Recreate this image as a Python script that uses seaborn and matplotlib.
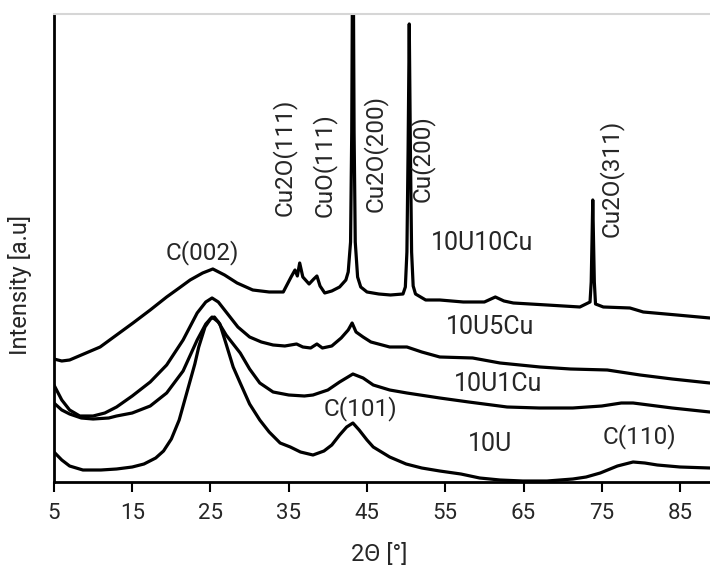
import matplotlib
matplotlib.use("Agg")
import matplotlib.pyplot as plt
import seaborn as sns
import pandas as pd

# ---- data (2theta in degrees, intensity in arbitrary units) ----
x_10u10cu = [5.0, 6.0, 7.0, 8.5, 10.9, 13.0, 15.1, 17.3, 19.4, 21.0, 22.4, 24.0, 25.3, 26.8, 28.4,
             30.4, 32.5, 34.3, 35.3, 35.8, 36.1, 36.4, 36.8, 37.6, 38.2, 38.6, 39.0, 39.6,
             40.5, 41.5, 42.3, 42.6, 42.9, 43.05, 43.2, 43.35, 43.5, 43.8, 44.2, 45.0, 46.5,
             48.0, 49.6, 49.9, 50.1, 50.25, 50.4, 50.55, 50.7, 50.9, 51.2, 52.5, 54.3, 57.3,
             60.0, 61.4, 62.5, 63.7, 68.0, 72.2, 73.5, 73.65, 73.75, 73.85, 73.95, 74.05,
             74.2, 75.2, 78.6, 80.3, 84.6, 88.8]
y_10u10cu = [123, 121, 122, 127, 135, 147, 159, 172, 185, 194, 202, 209, 213, 207, 199,
             192, 190, 190, 205, 212, 206, 219, 205, 198, 203, 206, 196, 189,
             191, 195, 202, 210, 240, 350, 600, 350, 240, 205, 195, 190, 188,
             187, 188, 195, 230, 330, 458, 330, 230, 196, 188, 182, 182, 180,
             180, 185, 181, 179, 177, 175, 180, 200, 240, 282, 240, 200,
             178, 175, 174, 170, 167, 164]

x_10u5cu = [5.0, 6.0, 7.0, 8.3, 10.0, 11.5, 13.0, 15.0, 17.3, 19.4, 21.5, 23.3, 24.4, 25.2,
            26.0, 27.1, 28.5, 30.0, 31.5, 33.0, 34.5, 36.0, 36.8, 37.8, 38.6, 39.3, 40.5,
            41.7, 42.6, 43.1, 43.6, 44.5, 45.5, 47.9, 50.1, 52.0, 54.3, 58.5, 62.0, 67.1,
            71.0, 75.7, 79.9, 84.0, 88.8]
y_10u5cu = [97, 82, 72, 66, 66, 69, 75, 86, 100, 117, 142, 169, 180, 184,
            180, 169, 155, 145, 140, 137, 136, 138, 135, 134, 138, 134, 136,
            144, 152, 159, 150, 145, 140, 135, 135, 130, 125, 124, 119, 115,
            113, 112, 107, 103, 99]

x_10u1cu = [5.0, 6.0, 7.0, 8.5, 10.0, 12.0, 13.0, 15.0, 17.3, 19.4, 21.5, 23.3, 24.4, 25.2,
            26.0, 27.0, 28.8, 30.0, 31.3, 33.0, 35.0, 37.0, 38.1, 40.0, 41.5, 43.2, 44.5,
            45.8, 47.9, 50.1, 54.3, 58.0, 62.9, 67.0, 71.3, 75.0, 77.5, 79.0, 81.0, 84.0,
            88.8]
y_10u1cu = [79, 72, 68, 64, 63, 64, 66, 69, 76, 89, 111, 142, 158, 165,
            160, 147, 129, 113, 99, 90, 87, 86, 87, 92, 100, 108, 104,
            97, 92, 89, 84, 80, 75, 74, 74, 76, 79, 79, 77, 74,
            70]

x_10u = [5.0, 6.0, 7.0, 8.7, 11.0, 13.0, 15.0, 16.5, 18.0, 19.0, 20.0, 21.0, 22.0, 23.0,
         23.5, 24.3, 25.0, 25.5, 26.2, 27.0, 27.9, 28.8, 30.0, 31.3, 32.5, 33.9, 35.2,
         36.5, 38.1, 39.5, 40.5, 41.5, 42.4, 43.2, 44.0, 45.0, 45.8, 47.9, 50.0, 52.0,
         54.3, 57.0, 59.4, 62.0, 64.9, 68.0, 71.3, 73.0, 74.8, 77.0, 79.0, 80.5, 82.1,
         85.0, 88.8]
y_10u = [30, 22, 16, 12, 12, 13, 15, 18, 24, 31, 43, 62, 90, 118,
         135, 155, 163, 165, 158, 138, 115, 99, 78, 62, 50, 39, 35,
         30, 27, 31, 37, 47, 55, 59, 52, 42, 35, 25, 18, 14,
         11, 8, 4, 2, 1, 1, 3, 5, 9, 16, 20, 19, 17,
         15, 14]

samples = ["10U10Cu", "10U5Cu", "10U1Cu", "10U"]

# annotation labels
peak_labels = ["C(002)", "Cu2O(111)", "CuO(111)", "Cu2O(200)", "Cu(200)", "Cu2O(311)",
               "C(101)", "C(110)"]
peak_label_x = [24.0, 34.4, 39.5, 46.0, 52.0, 76.2, 44.2, 79.8]
peak_label_y = [229, 325, 317, 328, 323, 304, 73, 45]
peak_label_rot = [0, 90, 90, 90, 90, 90, 0, 0]

sample_label_x = [59.7, 60.7, 61.7, 60.7]
sample_label_y = [239, 155, 98, 38]

x_ticks = [5, 15, 25, 35, 45, 55, 65, 75, 85]

# ---- build table ----
frames = []
for name, xs, ys in zip(samples, [x_10u10cu, x_10u5cu, x_10u1cu, x_10u],
                        [y_10u10cu, y_10u5cu, y_10u1cu, y_10u]):
    frames.append(pd.DataFrame({"two_theta": xs, "intensity": ys, "sample": name}))
df = pd.concat(frames, ignore_index=True)

sns.set_style("white")
plt.rcParams["font.family"] = ["Roboto", "DejaVu Sans"]

fig = plt.figure(figsize=(7.1, 5.68), dpi=100)
ax = fig.add_axes([0.076, 0.1514, 0.924, 0.824])

sns.lineplot(data=df, x="two_theta", y="intensity", units="sample", estimator=None,
             color="black", lw=2.3, sort=False, ax=ax, legend=False)

ax.set_xlim(5, 88.83)
ax.set_ylim(0, 468)
ax.set_xticks(x_ticks)
ax.set_xticklabels([str(t) for t in x_ticks], fontsize=16, color="#262626")
ax.set_yticks([])
ax.tick_params(axis="x", direction="out", length=7, width=1.5, color="black", pad=8,
               bottom=True)

for side in ["left", "bottom"]:
    ax.spines[side].set_color("black")
    ax.spines[side].set_linewidth(2)
ax.spines["right"].set_visible(False)
ax.spines["top"].set_color("#d6d6d6")
ax.spines["top"].set_linewidth(1.5)

ax.set_xlabel("2Θ [°]", fontsize=17, color="#262626")
ax.set_ylabel("Intensity [a.u]", fontsize=17, color="#262626")
ax.xaxis.set_label_coords(0.495, -0.13)
ax.yaxis.set_label_coords(-0.034, 0.42)

for t, x, y, r in zip(peak_labels, peak_label_x, peak_label_y, peak_label_rot):
    ax.text(x, y, t, rotation=r, ha="center", va="center", fontsize=17.5, color="#262626")
for t, x, y in zip(samples, sample_label_x, sample_label_y):
    ax.text(x, y, t, ha="center", va="center", fontsize=18, color="#262626")

fig.savefig("out.png", dpi=100)
